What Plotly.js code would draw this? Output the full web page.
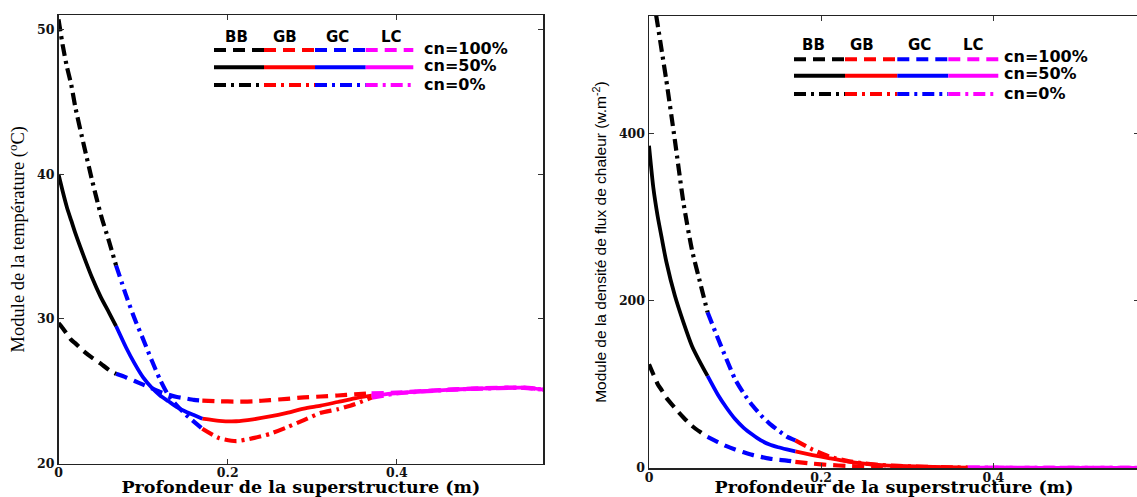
<!DOCTYPE html>
<html><head><meta charset="utf-8">
<script src="https://cdn.plot.ly/plotly-3.0.1.min.js"></script>
<style>html,body{margin:0;padding:0;overflow:hidden;background:#fff}#chart{width:1140px;height:497px}</style>
</head><body><div id="chart"></div><script>
// ---- data ----
const layerNames = ['BB', 'GB', 'GC', 'LC'];
const cnLabels = ['cn=100%', 'cn=50%', 'cn=0%'];

const depthBB = [0, 0.005, 0.01, 0.015, 0.02, 0.03, 0.04, 0.05, 0.06, 0.068];
const depthGC = [0.068, 0.08, 0.09, 0.10, 0.11, 0.12, 0.13, 0.14, 0.15, 0.16, 0.17];
const depthGB = [0.17, 0.19, 0.21, 0.23, 0.25, 0.27, 0.29, 0.31, 0.33, 0.35, 0.37];
const depthLC = [0.37, 0.40, 0.43, 0.46, 0.49, 0.52, 0.55, 0.573];

// Temperature (°C)
const tempCn100BB = [29.7, 29.35, 28.95, 28.55, 28.3, 27.75, 27.3, 26.9, 26.45, 26.2];
const tempCn100GC = [26.2, 25.95, 25.7, 25.45, 25.2, 24.95, 24.75, 24.6, 24.5, 24.4, 24.35];
const tempCn100GB = [24.35, 24.3, 24.28, 24.3, 24.38, 24.47, 24.57, 24.63, 24.7, 24.78, 24.85];
const tempCn100LC = [24.85, 24.9, 25.0, 25.1, 25.18, 25.23, 25.25, 25.12];

const tempCn50BB = [40.0, 38.8, 37.7, 36.8, 35.9, 34.3, 32.8, 31.5, 30.4, 29.5];
const tempCn50GC = [29.5, 28.0, 26.9, 25.95, 25.25, 24.7, 24.3, 23.9, 23.6, 23.35, 23.1];
const tempCn50GB = [23.1, 22.95, 22.92, 23.05, 23.25, 23.5, 23.8, 24.0, 24.25, 24.5, 24.7];
const tempCn50LC = [24.7, 24.87, 24.99, 25.09, 25.17, 25.22, 25.24, 25.11];

const tempCn0BB = [50.7, 48.9, 47.4, 46.2, 44.6, 42.0, 39.5, 37.2, 35.3, 33.7];
const tempCn0GC = [33.7, 31.6, 30.0, 28.6, 27.15, 25.8, 24.7, 24.0, 23.4, 22.9, 22.4];
const tempCn0GB = [22.4, 21.75, 21.55, 21.75, 22.05, 22.5, 23.0, 23.5, 23.75, 24.1, 24.55];
const tempCn0LC = [24.55, 24.84, 24.98, 25.08, 25.16, 25.21, 25.23, 25.1];

// Heat flux density (W.m-2)
const fluxCn100BB = [124, 112, 100.5, 92.6, 84, 71.7, 60.4, 50.2, 42.6, 37.1];
const fluxCn100GC = [37.1, 31, 26.1, 22.2, 18.8, 15.7, 13.3, 11.2, 9.9, 8.9, 7.4];
const fluxCn100GB = [7.4, 5.2, 3.6, 2.5, 1.7, 1.2, 0.9, 0.6, 0.4, 0.3, 0.2];
const fluxCn100LC = [0.2, 0.15, 0.1, 0.08, 0.06, 0.05, 0.04, 0.03];

const fluxCn50BB = [385, 335, 301, 273.6, 247, 206, 174, 145.5, 125, 110];
const fluxCn50GC = [110, 87.5, 72, 58.5, 48, 40, 33, 28, 24.8, 22.2, 19.8];
const fluxCn50GB = [19.8, 15.5, 11.5, 7.8, 5.2, 3.5, 2.5, 1.8, 1.2, 0.8, 0.5];
const fluxCn50LC = [0.5, 0.35, 0.25, 0.18, 0.12, 0.09, 0.07, 0.05];

const fluxCn0BB = [600, 562, 530, 497, 464, 392, 317, 260, 219, 186];
const fluxCn0GC = [186, 155, 130, 106, 89, 75, 63, 53, 45, 37.5, 33];
const fluxCn0GB = [33, 22, 13.5, 8.5, 5.5, 3.5, 2.5, 1.8, 1.2, 0.8, 0.5];
const fluxCn0LC = [0.5, 0.35, 0.25, 0.18, 0.12, 0.09, 0.07, 0.05];

// ---- styles ----
const W = 1140, H = 497;
const layerColor = {BB: '#000000', GB: '#ff0000', GC: '#0000ff', LC: '#ff00ff'};
const cnDash = ['12px,7px', 'solid', '12px,5px,3px,5px'];
const cnWidth = [4.2, 3.8, 4.2];

const depthByLayer = {BB: depthBB, GC: depthGC, GB: depthGB, LC: depthLC};
const tempSeries = [
  {BB: tempCn100BB, GC: tempCn100GC, GB: tempCn100GB, LC: tempCn100LC},
  {BB: tempCn50BB, GC: tempCn50GC, GB: tempCn50GB, LC: tempCn50LC},
  {BB: tempCn0BB, GC: tempCn0GC, GB: tempCn0GB, LC: tempCn0LC}
];
const fluxSeries = [
  {BB: fluxCn100BB, GC: fluxCn100GC, GB: fluxCn100GB, LC: fluxCn100LC},
  {BB: fluxCn50BB, GC: fluxCn50GC, GB: fluxCn50GB, LC: fluxCn50LC},
  {BB: fluxCn0BB, GC: fluxCn0GC, GB: fluxCn0GB, LC: fluxCn0LC}
];

const traces = [];
function addTraces(series, xa, ya) {
  const order = ['LC', 'GB', 'GC', 'BB'];
  series.forEach((s, i) => {
    order.forEach(layer => {
      traces.push({
        type: 'scatter', mode: 'lines',
        x: depthByLayer[layer], y: s[layer],
        xaxis: xa, yaxis: ya,
        name: layer + ' ' + cnLabels[i],
        showlegend: false,
        line: {color: layerColor[layer], dash: cnDash[i], width: cnWidth[i], shape: 'spline', smoothing: 0.6}
      });
    });
  });
}
addTraces(tempSeries, 'x', 'y');
addTraces(fluxSeries, 'x2', 'y2');

// ---- axes ----
const tickFont = {family: 'DejaVu Serif', size: 12.5, color: '#111', weight: 'bold'};
const xTitleFont = {family: 'DejaVu Serif', size: 17.5, color: '#000', weight: 'bold'};
function baseAxis() {
  return {
    showline: true, linecolor: '#222', linewidth: 1.5, mirror: 'ticks',
    ticks: 'inside', ticklen: 5, tickwidth: 1, tickcolor: '#333',
    showgrid: false, zeroline: false, tickfont: tickFont, automargin: false
  };
}
const L1 = 58.5, R1 = 543.3, T1 = 15, B1 = 463.5;
const L2 = 649, R2 = 1139, T2 = 16, B2 = 468;

const layout = {
  width: W, height: H,
  margin: {l: 0, r: 0, t: 0, b: 0, pad: 0},
  paper_bgcolor: '#fff', plot_bgcolor: '#fff',
  showlegend: false,
  xaxis: Object.assign(baseAxis(), {
    domain: [L1 / W, R1 / W], range: [0, 0.573], tick0: 0, dtick: 0.2, anchor: 'y',
    ticklabelstandoff: -3,
    title: {text: 'Profondeur de la superstructure (m)', font: xTitleFont, standoff: 4}
  }),
  yaxis: Object.assign(baseAxis(), {
    domain: [(H - B1) / H, (H - T1) / H], range: [20, 51], tick0: 20, dtick: 10, anchor: 'x',
    title: {text: 'Module de la température (<sup>o</sup>C)', font: {family: 'Liberation Serif', size: 18.5, color: '#000'}, standoff: 7}
  }),
  xaxis2: Object.assign(baseAxis(), {
    domain: [L2 / W, R2 / W], range: [0, (R2 - L2) / 861], tick0: 0, dtick: 0.2, anchor: 'y2',
    ticklabelstandoff: -3,
    title: {text: 'Profondeur de la superstructure (m)', font: xTitleFont, standoff: 3}
  }),
  yaxis2: Object.assign(baseAxis(), {
    domain: [(H - B2) / H, (H - T2) / H], range: [0, 540], tick0: 0, dtick: 200, anchor: 'x2',
    title: {text: 'Module de la densité de flux de chaleur (w.m<sup>-2</sup>)', font: {family: 'Liberation Sans', size: 15.5, color: '#000'}, standoff: 8}
  }),
  shapes: [], annotations: []
};

// ---- custom grid legends ----
const legendCols = ['BB', 'GB', 'GC', 'LC'];
function addLegend(xs, rowsY, headY, headX, labelX, labelY) {
  rowsY.forEach((y, r) => {
    legendCols.forEach((layer, c) => {
      layout.shapes.push({
        type: 'line', xref: 'paper', yref: 'paper',
        x0: xs[c] / W, x1: xs[c + 1] / W, y0: (H - y) / H, y1: (H - y) / H,
        line: {color: layerColor[layer], width: 4, dash: cnDash[r]}
      });
    });
    layout.annotations.push({
      xref: 'paper', yref: 'paper', x: labelX / W, y: (H - labelY[r]) / H,
      xanchor: 'left', yanchor: 'middle', showarrow: false, text: cnLabels[r],
      font: {family: 'DejaVu Sans', size: 16, color: '#000', weight: 'bold'}
    });
  });
  legendCols.forEach((layer, c) => {
    layout.annotations.push({
      xref: 'paper', yref: 'paper', x: headX[c] / W, y: (H - headY) / H,
      xanchor: 'center', yanchor: 'middle', showarrow: false, text: layer,
      font: {family: 'DejaVu Sans', size: 15, color: '#000', weight: 'bold'}
    });
  });
}
addLegend([214, 264, 315, 365.7, 413.3], [50, 67.3, 85], 36.7, [236.7, 285, 337.3, 391.7], 421.7, [48.3, 66, 84]);
addLegend([794, 845, 897.3, 948.3, 998.3], [59.3, 75.7, 94], 45, [813.3, 861.7, 919.3, 973.3], 1001.7, [56.7, 74, 93.3]);

Plotly.newPlot('chart', traces, layout, {displayModeBar: false, staticPlot: true});
</script></body></html>
